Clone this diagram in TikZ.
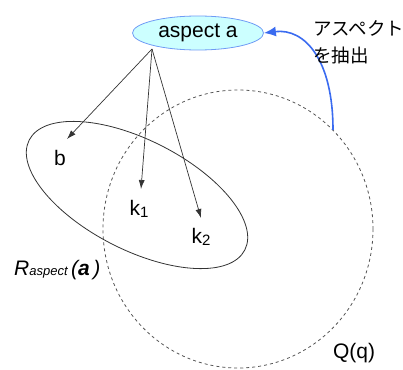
\documentclass[tikz,border=0pt]{standalone}
\usepackage{fontspec}
\setmainfont{Liberation Sans}
\newfontfamily\jpfont{Noto Sans CJK JP}
\usetikzlibrary{arrows.meta,shapes.geometric}
\definecolor{aspectfill}{HTML}{CCFFFF}
\definecolor{aspectline}{HTML}{6F9BF5}
\definecolor{extract}{HTML}{3A6BF0}
\definecolor{black80}{HTML}{333333}
\definecolor{black60}{HTML}{555555}

\begin{document}
\begin{tikzpicture}[x=1pt, y=-1pt,
    label/.style={font=\fontsize{21}{25}\selectfont, inner sep=1pt},
    pointer/.style={-{Latex[length=9pt,width=6pt]}, line width=0.7pt, black80}]
    \useasboundingbox (0,0) rectangle (403,369);

    % Query region Q(q)
    \draw[dashed, dash pattern=on 3pt off 3pt, line width=0.8pt, black60] (238,229) ellipse [x radius=135, y radius=139];
    \node[label] (qq) at (354,353) {Q(q)};

    % Region of the aspect
    \draw[line width=0.8pt, black80] (137,195) ellipse [x radius=121, y radius=55, rotate=-27];
    \node[label, anchor=west] (raspect) at (13,270) {\textit{R{\fontsize{13}{13}\selectfont aspect}\,(\textbf{a}\,)}};

    % Aspect node
    \node[ellipse, draw=aspectline, fill=aspectfill, line width=0.8pt, minimum width=131, minimum height=34, inner sep=0pt, font=\fontsize{21}{25}\selectfont] (aspect) at (198,33) {aspect a};

    % Members
    \node[label] (b) at (60,158) {b};
    \node[label] (k1) at (139,209) {k{\fontsize{15}{15}\selectfont\raisebox{-2pt}{1}}};
    \node[label] (k2) at (201,237) {k{\fontsize{15}{15}\selectfont\raisebox{-2pt}{2}}};

    % Pointers from the aspect
    \coordinate (root) at (152,49);
    \coordinate (tipb) at (67,139);
    \coordinate (tipk1) at (141,189);
    \coordinate (tipk2) at (201,218);
    \draw[pointer] (root) -- (tipb);
    \draw[pointer] (root) -- (tipk1);
    \draw[pointer] (root) -- (tipk2);

    % Extraction
    \coordinate (qtop) at (333,130);
    \draw[-{Latex[length=12pt,width=10pt]}, line width=1.6pt, extract] (qtop) .. controls (333,60) and (305,28) .. (aspect.east);
    \node[anchor=north west, align=left, inner sep=0pt, font=\jpfont\fontsize{18.5}{27}\selectfont] (extr) at (313,20) {アスペクト\\を抽出};

\end{tikzpicture}
\end{document}
